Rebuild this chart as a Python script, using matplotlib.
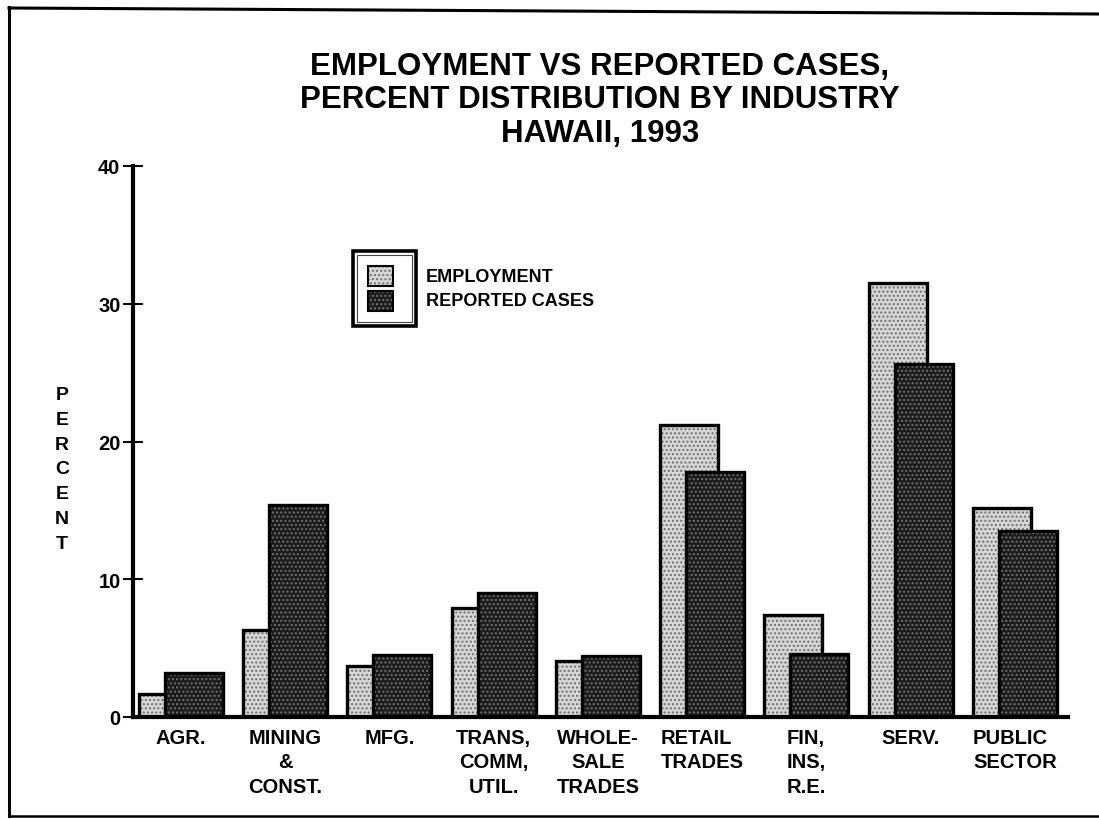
import matplotlib
matplotlib.use("Agg")
import matplotlib.pyplot as plt
import numpy as np
from matplotlib.patches import Rectangle
from matplotlib.lines import Line2D

plt.rcParams['font.family'] = ['Liberation Sans', 'DejaVu Sans']
plt.rcParams['font.weight'] = 'bold'
plt.rcParams['hatch.linewidth'] = 1.0

categories = ["AGR.", "MINING\n&\nCONST.", "MFG.", "TRANS,\nCOMM,\nUTIL.",
              "WHOLE-\nSALE\nTRADES", "RETAIL\nTRADES", "FIN,\nINS,\nR.E.",
              "SERV.", "PUBLIC\nSECTOR"]
label_align = ["center", "center", "center", "center", "center",
               "left", "left", "center", "left"]
employment = [1.7, 6.3, 3.7, 7.9, 4.1, 21.2, 7.4, 31.5, 15.2]
reported_cases = [3.2, 15.4, 4.5, 9.0, 4.4, 17.8, 4.6, 25.6, 13.5]
yticks = [0, 10, 20, 30, 40]
title = "EMPLOYMENT VS REPORTED CASES,\nPERCENT DISTRIBUTION BY INDUSTRY\nHAWAII, 1993"
legend_labels = ["EMPLOYMENT", "REPORTED CASES"]
ylabel = "PERCENT"

W, H = 1099, 820
fig = plt.figure(figsize=(W / 100, H / 100), dpi=100)

def fx(px):
    return px / W

def fy(py):
    return 1 - py / H

ax = fig.add_axes([fx(133), fy(718), fx(1068) - fx(133), fy(167) - fy(718)])

x = np.arange(len(categories))
width = 0.557
off = 0.125
emp_face, emp_hatch = "#d6d6d6", "#707070"
cas_face, cas_hatch = "#1c1c1c", "#707070"

ax.bar(x - off, employment, width, color=emp_face, edgecolor=emp_hatch,
       hatch="....", linewidth=0, zorder=2)
ax.bar(x - off, employment, width, facecolor="none", edgecolor="black",
       linewidth=2.4, zorder=3)
ax.bar(x + off, reported_cases, width, color=cas_face, edgecolor=cas_hatch,
       hatch="....", linewidth=0, zorder=4)
ax.bar(x + off, reported_cases, width, facecolor="none", edgecolor="black",
       linewidth=2.4, zorder=5)

ax.set_xlim(-0.46, 8.51)
ax.set_ylim(0, 40)
for s in ["top", "right"]:
    ax.spines[s].set_visible(False)
for s in ["left", "bottom"]:
    ax.spines[s].set_linewidth(3)
    ax.spines[s].set_zorder(6)

ax.set_yticks(yticks)
ax.set_yticklabels([str(v) for v in yticks], fontsize=14.5, fontweight="bold")
ax.tick_params(axis="y", direction="inout", length=14, width=1.5, pad=2)
ax.set_xticks(x)
ax.set_xticklabels(categories, fontsize=14.5, fontweight="bold", linespacing=1.35)
ax.tick_params(axis="x", length=0, pad=8)
for lab, al in zip(ax.get_xticklabels(), label_align):
    lab.set_multialignment(al)

# stacked vertical y label
fig.text(fx(62), fy(470), "\n".join(list(ylabel)), ha="center", va="center",
         fontsize=14, fontweight="bold", linespacing=1.6)

# title
fig.text(fx(600), fy(52), title, ha="center", va="top", fontsize=22.5,
         fontweight="bold", linespacing=1.15)

# legend box (double border)
fig.add_artist(Rectangle((fx(353), fy(327)), fx(416) - fx(353), fy(252) - fy(327),
                         transform=fig.transFigure, facecolor="white",
                         edgecolor="black", linewidth=2.6))
fig.add_artist(Rectangle((fx(357), fy(323)), fx(412) - fx(357), fy(256) - fy(323),
                         transform=fig.transFigure, facecolor="none",
                         edgecolor="#444444", linewidth=0.8))
sw = [(267, 287, emp_face, emp_hatch), (292, 312, cas_face, cas_hatch)]
for (y0, y1, fc, hc), lab in zip(sw, legend_labels):
    fig.add_artist(Rectangle((fx(368), fy(y1)), fx(393) - fx(368), fy(y0) - fy(y1),
                             transform=fig.transFigure, facecolor=fc,
                             edgecolor=hc, hatch="....", linewidth=0))
    fig.add_artist(Rectangle((fx(368), fy(y1)), fx(393) - fx(368), fy(y0) - fy(y1),
                             transform=fig.transFigure, facecolor="none",
                             edgecolor="black", linewidth=1.5))
    fig.text(fx(426), fy((y0 + y1) / 2), lab, ha="left", va="center",
             fontsize=13, fontweight="bold")

# page frame
fig.add_artist(Line2D([fx(9), fx(9)], [fy(8), fy(817)], transform=fig.transFigure,
                      color="black", linewidth=2.2))
fig.add_artist(Line2D([fx(9), fx(1099)], [fy(9), fy(15)], transform=fig.transFigure,
                      color="black", linewidth=2.2))
fig.add_artist(Line2D([fx(9), fx(1099)], [fy(817), fy(817)], transform=fig.transFigure,
                      color="black", linewidth=1.8))

fig.savefig("out.png", dpi=100, facecolor="white")
